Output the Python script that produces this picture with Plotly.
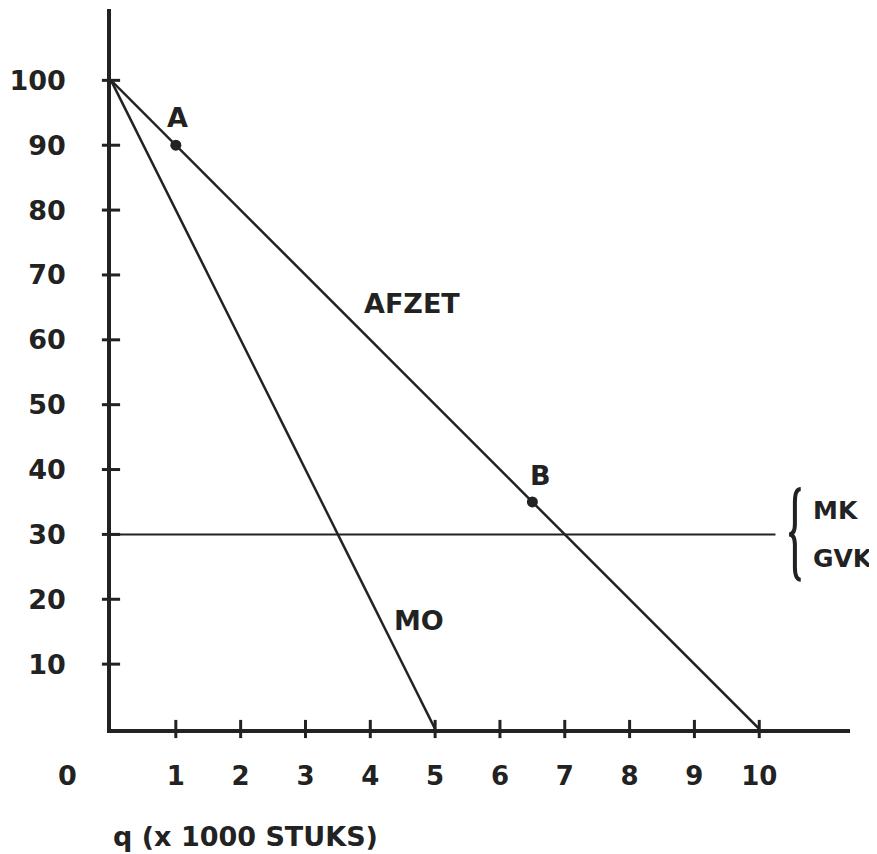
import plotly.graph_objects as go

# Data
afzet_q = [0, 10]
afzet_p = [100, 0]
mo_q = [0, 5]
mo_p = [100, 0]
mk_q = [0, 10.25]
mk_p = [30, 30]
point_names = ["A", "B"]
point_q = [1, 6.5]
point_p = [90, 35]
x_ticks = [1, 2, 3, 4, 5, 6, 7, 8, 9, 10]
y_ticks = [10, 20, 30, 40, 50, 60, 70, 80, 90, 100]

INK = "#222222"
FONT = "DejaVu Sans"
fs = 27
XMAX, YMAX = 11.4, 111

fig = go.Figure()
fig.add_trace(go.Scatter(x=afzet_q, y=afzet_p, mode="lines", line=dict(color=INK, width=2.5), showlegend=False, cliponaxis=False))
fig.add_trace(go.Scatter(x=mo_q, y=mo_p, mode="lines", line=dict(color=INK, width=2.5), showlegend=False, cliponaxis=False))
fig.add_trace(go.Scatter(x=mk_q, y=mk_p, mode="lines", line=dict(color=INK, width=2), showlegend=False, cliponaxis=False))
# tick crosses
fig.add_trace(go.Scatter(x=x_ticks, y=[0]*len(x_ticks), mode="markers",
                         marker=dict(symbol="line-ns-open", size=13, color=INK, line=dict(color=INK, width=3)),
                         showlegend=False, cliponaxis=False))
fig.add_trace(go.Scatter(x=[0]*len(y_ticks), y=y_ticks, mode="markers",
                         marker=dict(symbol="line-ew-open", size=13, color=INK, line=dict(color=INK, width=3)),
                         showlegend=False, cliponaxis=False))
fig.add_trace(go.Scatter(x=point_q, y=point_p, mode="markers",
                         marker=dict(symbol="circle", size=11, color=INK),
                         showlegend=False, cliponaxis=False))

font = dict(family=FONT, size=fs, color=INK, weight="bold")
small = dict(family=FONT, size=25, color=INK, weight="bold")
ann = []
ann.append(dict(x=point_q[0] + 0.03, y=point_p[0] + 4.3, text=point_names[0]))
ann.append(dict(x=point_q[1] + 0.13, y=point_p[1] + 4.1, text=point_names[1]))
ann.append(dict(x=4.64, y=65.6, text="AFZET"))
ann.append(dict(x=4.75, y=16.8, text="MO"))
ann.append(dict(x=10.8, y=33.7, text="MK", xanchor="left", font=small))
ann.append(dict(x=10.8, y=26.3, text="GVK", xanchor="left", font=small))
annotations = []
for a in ann:
    d = dict(xref="x", yref="y", showarrow=False, font=font, xanchor=a.get("xanchor", "center"), yanchor="middle")
    d.update(a)
    annotations.append(d)
# labels outside the axis ranges (paper coordinates derived from data units)
annotations.append(dict(xref="paper", yref="paper", x=-0.67 / XMAX, y=-7.1 / YMAX, text="0", showarrow=False,
                        font=font, xanchor="center", yanchor="middle"))
annotations.append(dict(xref="paper", yref="paper", x=0, y=-16.5 / YMAX, text="q (x 1000 STUKS)", showarrow=False,
                        font=dict(family=FONT, size=27, color=INK, weight="bold"), xanchor="left", yanchor="middle"))

# curly brace grouping MK / GVK, centred on the MK level
c = mk_p[0]
bx, bl, br = 10.55, 10.46, 10.64
brace = (f"M {br},{c+7} Q {bx},{c+7} {bx},{c+5} L {bx},{c+1.6} Q {bx},{c} {bl},{c} "
         f"Q {bx},{c} {bx},{c-1.6} L {bx},{c-5} Q {bx},{c-7} {br},{c-7}")

fig.update_layout(
    width=877, height=854,
    margin=dict(l=98, r=35, t=1, b=133),
    paper_bgcolor="white", plot_bgcolor="white",
    annotations=annotations,
    shapes=[dict(type="path", path=brace, xref="x", yref="y", line=dict(color=INK, width=4))],
    xaxis=dict(range=[0, XMAX], showgrid=False, zeroline=False, showline=True, linecolor=INK, linewidth=3.5,
               tickmode="array", tickvals=x_ticks, ticktext=[str(v) for v in x_ticks],
               ticks="", ticklabelstandoff=21, tickfont=dict(family=FONT, size=fs - 1, color=INK, weight="bold")),
    yaxis=dict(range=[0, YMAX], showgrid=False, zeroline=False, showline=True, linecolor=INK, linewidth=3.5,
               tickmode="array", tickvals=y_ticks, ticktext=[str(v) for v in y_ticks],
               ticks="", ticklabelstandoff=36, tickfont=dict(family=FONT, size=fs, color=INK, weight="bold")),
)
fig.write_html("out.html")
